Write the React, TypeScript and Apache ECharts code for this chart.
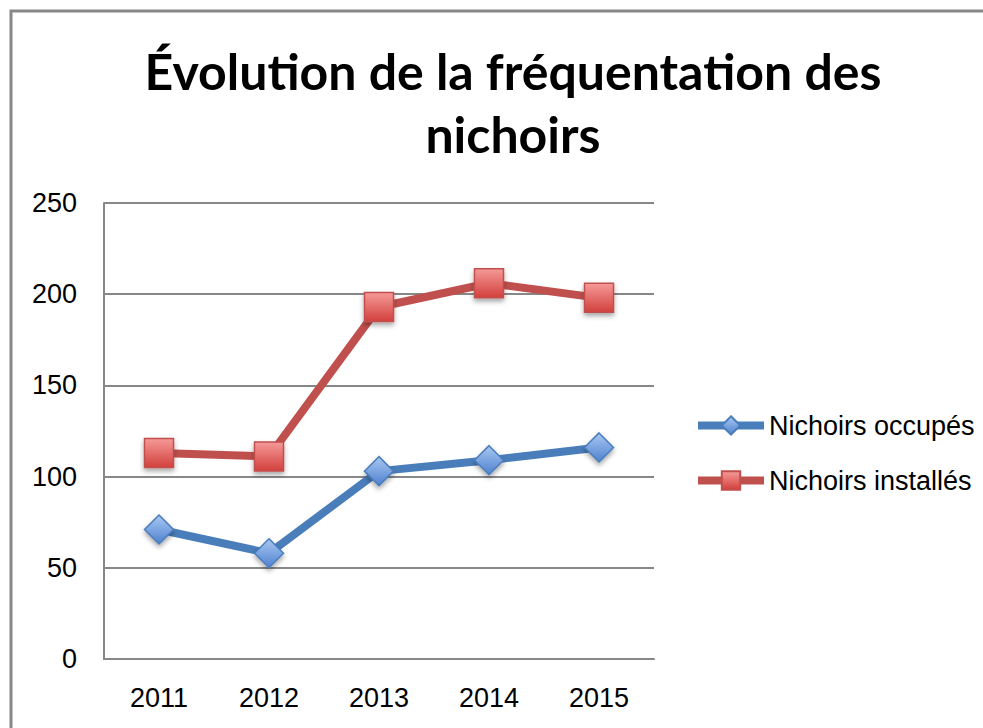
import React, { useEffect, useRef } from "react";
import * as echarts from "echarts";

const years = ["2011", "2012", "2013", "2014", "2015"];
const occupes = [71, 58, 103, 109, 116];
const installes = [113, 111, 193, 206, 198];
const seriesNames = ["Nichoirs occupés", "Nichoirs installés"];
const titleText = "Évolution de la fréquentation des\nnichoirs";

export default function App() {
  const ref = useRef<HTMLDivElement>(null);
  useEffect(() => {
    if (!ref.current) return;
    const chart = echarts.init(ref.current, null, { renderer: "svg" });
    const font = "'Liberation Sans', Arial, sans-serif";
    const redFill = new echarts.graphic.LinearGradient(0, 0, 0, 1, [
      { offset: 0, color: "#f59a98" },
      { offset: 1, color: "#d2403c" },
    ]);
    const blueFill = new echarts.graphic.LinearGradient(0, 0, 0, 1, [
      { offset: 0, color: "#a9c8f2" },
      { offset: 1, color: "#4f81cf" },
    ]);
    chart.setOption({
      animation: false,
      backgroundColor: "#ffffff",
      graphic: [
        {
          type: "rect",
          shape: { x: 11, y: 11, width: 1100, height: 900 },
          style: { fill: "none", stroke: "#878787", lineWidth: 3 },
          silent: true,
        },
      ],
      title: {
        text: titleText,
        left: 508,
        top: 34,
        textAlign: "center",
        textStyle: {
          fontFamily: "Lato, sans-serif",
          fontWeight: "bold",
          fontSize: 50,
          lineHeight: 63,
          color: "#000000",
        },
      },
      legend: {
        orient: "vertical",
        left: 694,
        top: 412,
        padding: 0,
        itemWidth: 66,
        itemHeight: 23,
        itemGap: 28,
        lineStyle: { width: 8 },
        textStyle: {
          fontFamily: font,
          fontSize: 27,
          color: "#000000",
        },
        data: seriesNames,
      },
      grid: { left: 104, right: 329, top: 203, bottom: 69, containLabel: false },
      xAxis: {
        type: "category",
        data: years,
        boundaryGap: true,
        axisLine: { show: true, lineStyle: { color: "#878787", width: 2 } },
        axisTick: { show: false },
        axisLabel: {
          fontFamily: font,
          fontSize: 27,
          color: "#000000",
          margin: 25,
        },
      },
      yAxis: {
        type: "value",
        min: 0,
        max: 250,
        interval: 50,
        axisLine: { show: true, lineStyle: { color: "#878787", width: 2 } },
        axisTick: { show: false },
        splitLine: { show: true, lineStyle: { color: "#878787", width: 2 } },
        axisLabel: {
          fontFamily: font,
          fontSize: 27,
          color: "#000000",
          margin: 27,
        },
      },
      series: [
        {
          name: seriesNames[0],
          type: "line",
          data: occupes,
          symbol: "diamond",
          symbolSize: 29,
          lineStyle: { color: "#4a7ebb", width: 8 },
          itemStyle: {
            color: blueFill,
            borderColor: "#4a7ebb",
            borderWidth: 1.5,
            shadowBlur: 5,
            shadowColor: "rgba(0,0,0,0.35)",
            shadowOffsetY: 3,
          },
          z: 3,
        },
        {
          name: seriesNames[1],
          type: "line",
          data: installes,
          symbol: "rect",
          symbolSize: 29,
          lineStyle: { color: "#c0504d", width: 8 },
          itemStyle: {
            color: redFill,
            borderColor: "#c0504d",
            borderWidth: 1.5,
            shadowBlur: 5,
            shadowColor: "rgba(0,0,0,0.35)",
            shadowOffsetY: 3,
          },
          z: 2,
        },
      ],
    });
    return () => chart.dispose();
  }, []);
  return (
    <div
      ref={ref}
      style={{ position: "fixed", left: 0, top: 0, width: 983, height: 728 }}
    />
  );
}
